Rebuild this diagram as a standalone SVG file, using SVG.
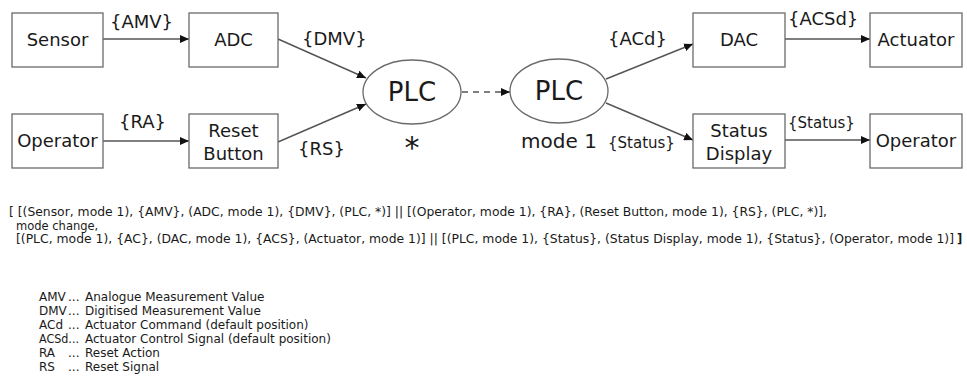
<svg xmlns="http://www.w3.org/2000/svg" width="967" height="378" viewBox="0 0 967 378">
<defs>
<style>
text{font-family:"DejaVu Sans","Verdana",sans-serif;fill:#1a1a1a}
.box{fill:#fff;stroke:#6a6a6a;stroke-width:1.3}
.lbl{font-size:18px;text-anchor:middle}
.el{font-size:18px}
.sm{font-size:15px}
.plc{font-size:26px;text-anchor:middle}
.conn line{stroke:#555;stroke-width:1.4;fill:none}
.dash{stroke-dasharray:6,5}
.t{font-size:11.5px}
.lg{font-size:12px}
</style>
<marker id="ah" markerWidth="10" markerHeight="8" refX="9" refY="4" orient="auto" markerUnits="userSpaceOnUse">
<path d="M0,0 L9,4 L0,8 Z" fill="#111"/>
</marker>
</defs>
<rect width="967" height="378" fill="#fff"/>

<g class="conn">
<line x1="103" y1="39" x2="189" y2="39" marker-end="url(#ah)"/>
<line x1="278" y1="39" x2="366" y2="78" marker-end="url(#ah)"/>
<line x1="103" y1="141" x2="189" y2="141" marker-end="url(#ah)"/>
<line x1="278" y1="142" x2="366" y2="104" marker-end="url(#ah)"/>
<line class="dash" x1="462" y1="92" x2="510" y2="92" marker-end="url(#ah)"/>
<line x1="606" y1="79" x2="693" y2="44" marker-end="url(#ah)"/>
<line x1="606" y1="103" x2="693" y2="140" marker-end="url(#ah)"/>
<line x1="785" y1="39" x2="870" y2="39" marker-end="url(#ah)"/>
<line x1="785" y1="140" x2="870" y2="140" marker-end="url(#ah)"/>
</g>

<g id="sensor"><rect class="box" x="12" y="13" width="91" height="54"/><text class="lbl" x="57.5" y="46">Sensor</text></g>
<g id="adc"><rect class="box" x="189" y="13" width="89" height="54"/><text class="lbl" x="233.5" y="46">ADC</text></g>
<g id="operator1"><rect class="box" x="12" y="114" width="91" height="54"/><text class="lbl" x="57.5" y="147">Operator</text></g>
<g id="reset"><rect class="box" x="189" y="114" width="89" height="54"/><text class="lbl" x="233.5" y="137">Reset</text><text class="lbl" x="233.5" y="160">Button</text></g>
<g id="plc1"><ellipse cx="412" cy="92" rx="49" ry="32" fill="#fff" stroke="#6a6a6a" stroke-width="1.3"/><text class="plc" x="412" y="101">PLC</text><text x="412" y="158" style="font-size:30px;text-anchor:middle">*</text></g>
<g id="plc2"><ellipse cx="559" cy="91" rx="49" ry="32" fill="#fff" stroke="#6a6a6a" stroke-width="1.3"/><text class="plc" x="559" y="100">PLC</text><text x="559" y="148" style="font-size:20px;text-anchor:middle">mode 1</text></g>
<g id="dac"><rect class="box" x="693" y="13" width="92" height="54"/><text class="lbl" x="739" y="46">DAC</text></g>
<g id="actuator"><rect class="box" x="870" y="13" width="92" height="54"/><text class="lbl" x="916" y="46">Actuator</text></g>
<g id="status"><rect class="box" x="693" y="114" width="92" height="54"/><text class="lbl" x="739" y="137">Status</text><text class="lbl" x="739" y="160">Display</text></g>
<g id="operator2"><rect class="box" x="870" y="114" width="92" height="54"/><text class="lbl" x="916" y="147">Operator</text></g>

<g id="edge-labels">
<text class="el" x="110" y="28">{AMV}</text>
<text class="el" x="302" y="45">{DMV}</text>
<text class="el" x="119" y="128">{RA}</text>
<text class="el" x="298" y="155">{RS}</text>
<text class="el" x="608" y="45">{ACd}</text>
<text class="el" x="788" y="25">{ACSd}</text>
<text class="sm" x="608" y="148">{Status}</text>
<text class="sm" x="788" y="128">{Status}</text>
</g>

<g id="formula" class="t">
<text x="9" y="216" textLength="818" lengthAdjust="spacingAndGlyphs">[ [(Sensor, mode 1), {AMV}, (ADC, mode 1), {DMV}, (PLC, *)] || [(Operator, mode 1), {RA}, (Reset Button, mode 1), {RS}, (PLC, *)],</text>
<text x="16" y="229.5">mode change,</text>
<text x="16" y="243" textLength="938" lengthAdjust="spacingAndGlyphs">[(PLC, mode 1), {AC}, (DAC, mode 1), {ACS}, (Actuator, mode 1)] || [(PLC, mode 1), {Status}, (Status Display, mode 1), {Status}, (Operator, mode 1)]</text>
<text x="957" y="243" font-weight="bold">]</text>
</g>

<g id="legend" class="lg">
<text x="39" y="301">AMV</text><text x="68" y="301">...</text><text x="85" y="301">Analogue Measurement Value</text>
<text x="39" y="315">DMV</text><text x="68" y="315">...</text><text x="85" y="315">Digitised Measurement Value</text>
<text x="39" y="329">ACd</text><text x="68" y="329">...</text><text x="85" y="329">Actuator Command (default position)</text>
<text x="39" y="343" textLength="40" lengthAdjust="spacingAndGlyphs">ACSd...</text><text x="85" y="343">Actuator Control Signal (default position)</text>
<text x="39" y="357">RA</text><text x="68" y="357">...</text><text x="85" y="357">Reset Action</text>
<text x="39" y="371">RS</text><text x="68" y="371">...</text><text x="85" y="371">Reset Signal</text>
</g>
</svg>
